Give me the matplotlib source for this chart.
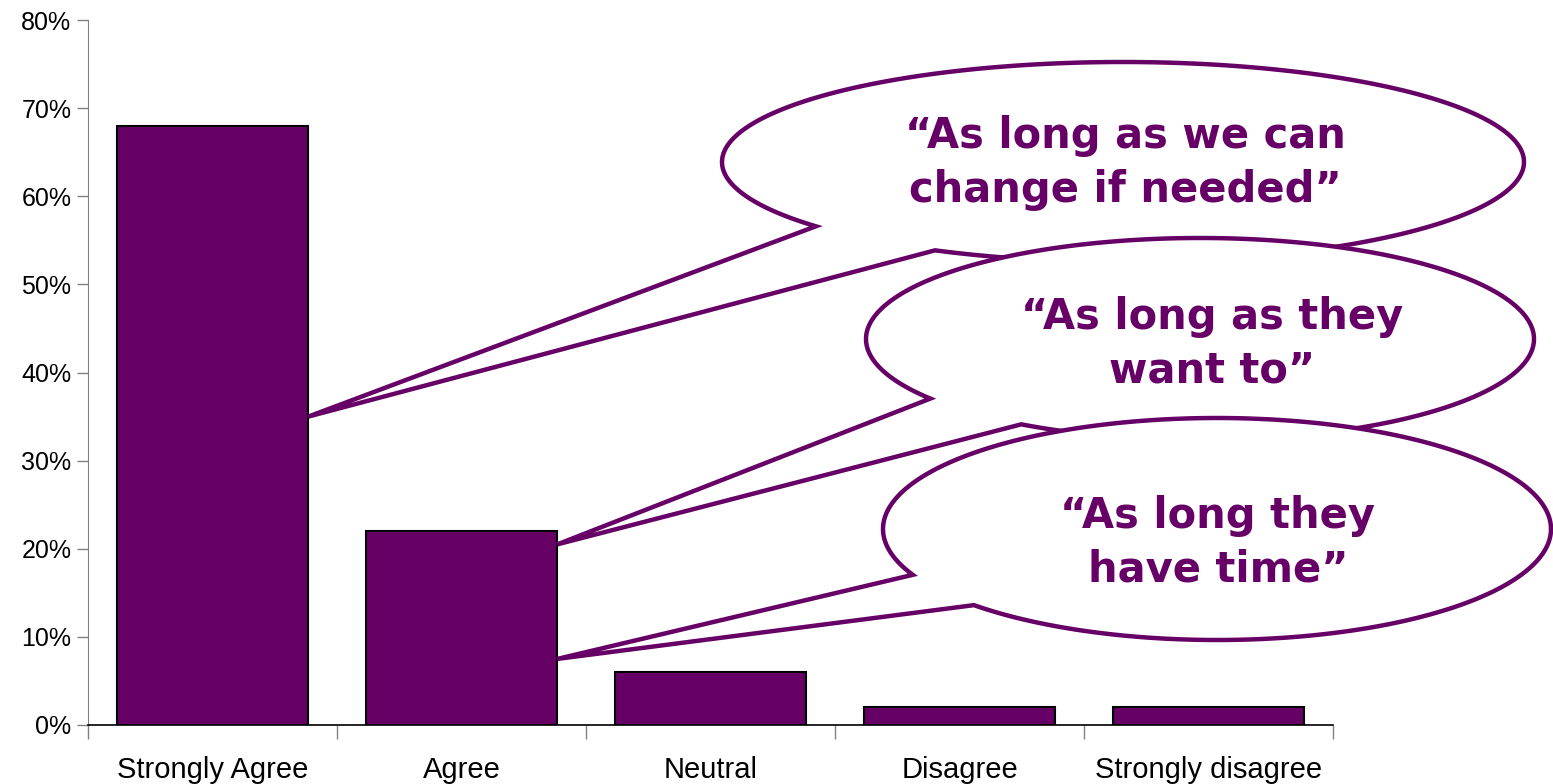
import numpy as np
import matplotlib
matplotlib.use('Agg')
from matplotlib import pyplot as plt
from matplotlib.patches import Polygon
from matplotlib.transforms import Affine2D
from matplotlib.ticker import FixedLocator, FuncFormatter

W, H = 1553, 784
PURPLE = '#660066'

categories = ['Strongly Agree', 'Agree', 'Neutral', 'Disagree', 'Strongly disagree']
values = [68, 22, 6, 2, 2]
y_ticks = [0, 10, 20, 30, 40, 50, 60, 70, 80]

quotes = ['\u201cAs long as we can\nchange if needed\u201d',
          '\u201cAs long as they\nwant to\u201d',
          '\u201cAs long they\nhave time\u201d']
# which bar each bubble points at, and the height (%) of the tail tip
tail_bar = [0, 1, 1]
tail_y = [35, 20.5, 7.5]

# bubble layout in image pixels (top-left origin): centre, radii, tail base points, text centre
bubbles = [
    dict(c=(1123, 162), r=(401, 100), base=[(822, 225), (940, 248)], text=(1125, 163)),
    dict(c=(1200, 339), r=(334, 101), base=[(933, 398), (1022, 424)], text=(1212, 344)),
    dict(c=(1217, 529), r=(334, 111), base=[(905, 576), (968, 607)], text=(1218, 543)),
]

plt.rcParams['font.family'] = ['Liberation Sans', 'DejaVu Sans']

fig = plt.figure(figsize=(W / 100, H / 100), dpi=100)
ax = fig.add_axes([88 / W, 59 / H, (1333 - 88) / W, (725 - 20) / H])

x = np.arange(len(categories))
bar_w = 0.77
ax.bar(x, values, width=bar_w, color=PURPLE, edgecolor='black', linewidth=1.5, zorder=2)

ax.set_xlim(-0.5, len(categories) - 0.5)
ax.set_ylim(0, 80)
ax.yaxis.set_major_locator(FixedLocator(y_ticks))
ax.yaxis.set_major_formatter(FuncFormatter(lambda v, p: '%d%%' % v))
ax.set_xticks(x)
ax.set_xticklabels(categories)
ax.set_xticks(np.arange(len(categories) + 1) - 0.5, minor=True)
ax.tick_params(axis='x', which='major', length=0, pad=22, labelsize=21)
ax.tick_params(axis='x', which='minor', length=10, width=1, color='#808080', direction='out')
ax.tick_params(axis='y', length=8, width=1, color='#808080', labelsize=18, pad=4)
for s in ['top', 'right']:
    ax.spines[s].set_visible(False)
ax.spines['left'].set_color('#808080')
ax.spines['bottom'].set_color('black')
ax.spines['bottom'].set_linewidth(1.2)

# image-pixel coordinates -> figure
pix = Affine2D().scale(1 / W, -1 / H).translate(0, 1) + fig.transFigure


def to_img(px, py):
    dx, dy = ax.transData.transform((px, py))
    return dx, H - dy


for i, b in enumerate(bubbles):
    cx, cy = b['c']
    rx, ry = b['r']
    ta, tb = [np.arctan2((by - cy) / ry, (bx - cx) / rx) for bx, by in b['base']]
    if ta < tb:
        ta, tb = tb, ta
    # long way round the ellipse, skipping the short arc between the tail's base points
    ts = np.linspace(ta, tb + 2 * np.pi, 300)
    pts = np.column_stack([cx + rx * np.cos(ts), cy + ry * np.sin(ts)])
    tip = to_img(tail_bar[i] + bar_w / 2, tail_y[i])
    pts = np.vstack([pts, tip])
    fig.patches.append(Polygon(pts, closed=True, facecolor='white', edgecolor=PURPLE,
                               linewidth=3.2, joinstyle='miter', transform=pix, zorder=5 + i))
    tx, ty = b['text']
    fig.text(tx / W, 1 - ty / H, quotes[i], ha='center', va='center', color=PURPLE,
             fontsize=30, fontweight='bold', family='DejaVu Sans', linespacing=1.35,
             zorder=5 + i)

fig.savefig('out.png', dpi=100)
